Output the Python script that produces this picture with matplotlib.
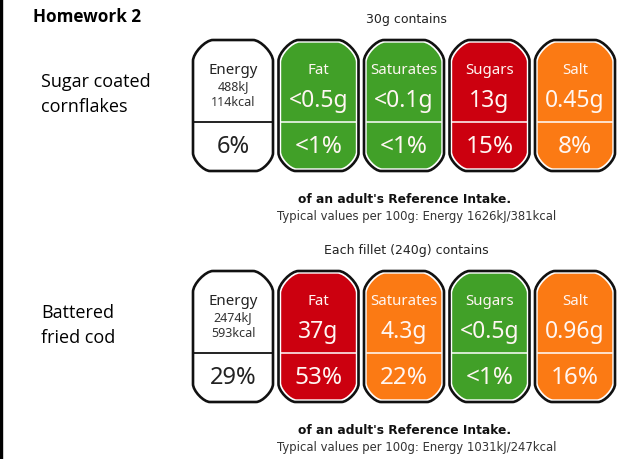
import matplotlib
matplotlib.use("Agg")
import matplotlib.pyplot as plt
from matplotlib.path import Path
from matplotlib.patches import PathPatch, Rectangle

# data
nutrients = ['Energy', 'Fat', 'Saturates', 'Sugars', 'Salt']
products = ['Sugar coated\ncornflakes', 'Battered\nfried cod']
portions = ['30g contains', 'Each fillet (240g) contains']
energy_kj = ['488kJ', '2474kJ']
energy_kcal = ['114kcal', '593kcal']
energy_ri = ['6%', '29%']
amounts = [['<0.5g', '<0.1g', '13g', '0.45g'],
           ['37g', '4.3g', '<0.5g', '0.96g']]
ri = [['<1%', '<1%', '15%', '8%'],
      ['53%', '22%', '<1%', '16%']]
levels = [['low', 'low', 'high', 'medium'],
          ['high', 'medium', 'low', 'medium']]
per_100g = ['Typical values per 100g: Energy 1626kJ/381kcal',
            'Typical values per 100g: Energy 1031kJ/247kcal']

level_colors = {'low': '#41a028', 'medium': '#fb7a14', 'high': '#cc000f'}

LBL = 'DejaVu Sans'
BOX = 'Noto Sans'
HAND = 'Open Sans'


def label_path(x0, y0, w, h, ct, cb, k=0.38):
    x1, y1 = x0 + w, y0 + h
    cwt, cht = ct
    cwb, chb = cb

    def corner(p0, c, p1):
        a = (p0[0] + k * (c[0] - p0[0]), p0[1] + k * (c[1] - p0[1]))
        b = (p1[0] + k * (c[0] - p1[0]), p1[1] + k * (c[1] - p1[1]))
        return [a, b, p1]

    verts = [(x0, y0 + cht)]
    codes = [Path.MOVETO]
    verts += corner((x0, y0 + cht), (x0, y0), (x0 + cwt, y0)); codes += [Path.CURVE4] * 3
    verts.append((x1 - cwt, y0)); codes.append(Path.LINETO)
    verts += corner((x1 - cwt, y0), (x1, y0), (x1, y0 + cht)); codes += [Path.CURVE4] * 3
    verts.append((x1, y1 - chb)); codes.append(Path.LINETO)
    verts += corner((x1, y1 - chb), (x1, y1), (x1 - cwb, y1)); codes += [Path.CURVE4] * 3
    verts.append((x0 + cwb, y1)); codes.append(Path.LINETO)
    verts += corner((x0 + cwb, y1), (x0, y1), (x0, y1 - chb)); codes += [Path.CURVE4] * 3
    verts.append((x0, y0 + cht)); codes.append(Path.CLOSEPOLY)
    return Path(verts, codes)


fig = plt.figure(figsize=(6.17, 4.6), dpi=100)
ax = fig.add_axes([0, 0, 1, 1])
ax.set_xlim(0, 617)
ax.set_ylim(460, 0)
ax.axis('off')

ax.add_patch(Rectangle((0, 0), 2, 460, color='black', zorder=5))
ax.text(33, 22, 'Homework 2', family=HAND, weight='bold', fontsize=12.3,
        va='baseline')

x_start, pitch, bw = 193, 85.5, 80
top, bh = 41, 131
d = 2.7
txt = '#fff6f2'

for g, oy in enumerate([0, 231]):
    lines = products[g].split('\n')
    ax.text(41, 87 + oy, lines[0], family=HAND, fontsize=13, va='baseline')
    ax.text(41, 112 + oy, lines[1], family=HAND, fontsize=13, va='baseline')

    ax.text(406, 23 + oy, portions[g], family=LBL, fontsize=9,
            ha='center', va='baseline', color='#222222')

    for i, name in enumerate(nutrients):
        x0 = x_start + i * pitch
        y0 = top + oy
        outer = label_path(x0, y0, bw, bh, (20, 21), (17, 18))
        ax.add_patch(PathPatch(outer, facecolor='white', edgecolor='#111111',
                               lw=1.9, zorder=2))
        if i == 0:
            ax.plot([x0, x0 + bw], [123 + oy, 123 + oy], color='#111111',
                    lw=1.3, zorder=3)
            ax.text(x0 + bw / 2, 74 + oy, name, family=BOX, fontsize=10.8,
                    ha='center', va='baseline', color='#222222', zorder=4)
            ax.text(x0 + bw / 2, 90 + oy, energy_kj[g], family=BOX, fontsize=9,
                    ha='center', va='baseline', color='#333333', zorder=4)
            ax.text(x0 + bw / 2, 106.5 + oy, energy_kcal[g], family=BOX,
                    fontsize=9, ha='center', va='baseline', color='#333333',
                    zorder=4)
            ax.text(x0 + bw / 2, 153 + oy, energy_ri[g], family=BOX, fontsize=17,
                    ha='center', va='baseline', color='#222222', zorder=4)
        else:
            col = level_colors[levels[g][i - 1]]
            inner = label_path(x0 + d, y0 + d, bw - 2 * d, bh - 2 * d,
                               (18.5, 19.5), (15.5, 16.5))
            ax.add_patch(PathPatch(inner, facecolor=col, edgecolor='none',
                                   zorder=3))
            ax.plot([x0 + d, x0 + bw - d], [123 + oy, 123 + oy], color='white',
                    lw=1.1, zorder=3.5)
            ax.text(x0 + bw / 2, 74 + oy, name, family=BOX, fontsize=10.8,
                    ha='center', va='baseline', color=txt, zorder=4)
            ax.text(x0 + bw / 2, 107 + oy, amounts[g][i - 1], family=BOX,
                    fontsize=16.5, ha='center', va='baseline', color=txt,
                    zorder=4)
            ax.text(x0 + bw / 2, 153 + oy, ri[g][i - 1], family=BOX,
                    fontsize=17.5, ha='center', va='baseline', color=txt,
                    zorder=4)

    ax.text(405, 203 + oy, "of an adult's Reference Intake.", family=LBL,
            weight='bold', fontsize=8.8, ha='center', va='baseline',
            color='#111111')
    ax.text(417, 220 + oy, per_100g[g], family=LBL, fontsize=8.4,
            ha='center', va='baseline', color='#333333')

fig.savefig('out.png', dpi=100)
